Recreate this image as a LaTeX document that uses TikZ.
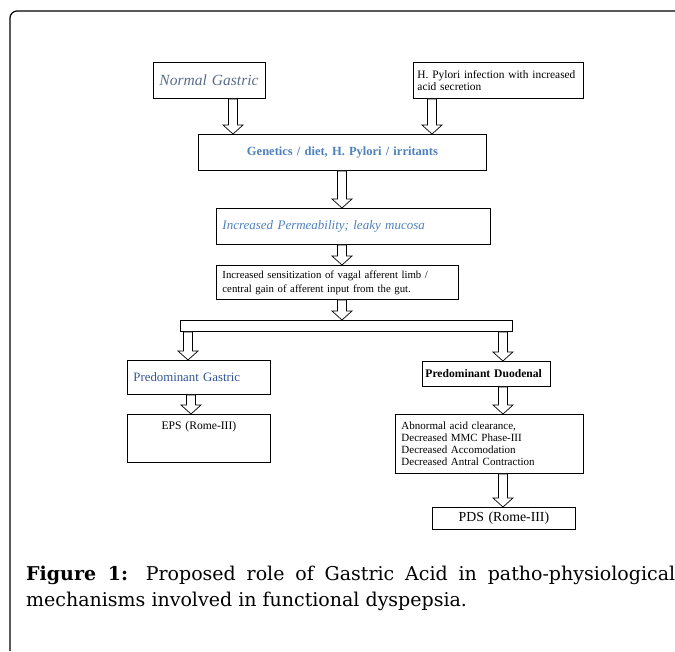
\documentclass[tikz,border=0pt]{standalone}
\usepackage{fontspec}
\setmainfont{Liberation Serif}
\newfontfamily\capfont{DejaVu Serif}
\usetikzlibrary{positioning,calc}
\definecolor{accent}{HTML}{4F81BD}
\definecolor{slate}{HTML}{5B6B8C}
\definecolor{deepblue}{HTML}{2F5597}
\tikzset{
  box/.style={draw,line width=0.9pt,anchor=north west,inner xsep=6pt,inner ysep=0pt,
    align=left,font=\fontsize{11}{12}\selectfont},
  hollowarrow/.style={draw,fill=white,line width=0.7pt},
}
% hollow block arrow: x taken from #1, runs from y of #1 down to y of #2
\newcommand{\hollow}[2]{%
  \draw[hollowarrow] let \p1=#1, \p2=#2 in
    (\x1-4.5pt,\y1) -- (\x1-4.5pt,\y2+9pt) -- (\x1-10pt,\y2+9pt) -- (\x1,\y2)
    -- (\x1+10pt,\y2+9pt) -- (\x1+4.5pt,\y2+9pt) -- (\x1+4.5pt,\y1) -- cycle;}

\begin{document}
\begin{tikzpicture}[x=1pt,y=-1pt]
\useasboundingbox (0,0) rectangle (675,651);
% outer frame
\draw[line width=1.2pt,rounded corners=7pt] (10,651) -- (10,11) -- (675,11);

% top row
\node[box,minimum height=36pt,text width=100pt,text=slate,font=\fontsize{15.5}{14}\selectfont\itshape]
  (normal) at (153,62) {Normal Gastric};
\node[box,minimum height=36pt,inner xsep=4pt,text width=162pt,font=\fontsize{11.4}{12}\selectfont]
  (pylori) at (413,62) {H. Pylori infection with increased\\acid secretion};

% middle chain
\node[box,minimum height=36pt,text width=276pt,align=center,text=accent,font=\fontsize{12.5}{14}\selectfont\bfseries]
  (genetics) at (198,134) {Genetics / diet, H. Pylori / irritants};
\node[box,minimum height=36pt,text width=262pt,text=accent,font=\fontsize{13}{14}\selectfont\itshape]
  (leaky) at (216,208) {Increased Permeability; leaky mucosa};
\node[box,minimum height=34pt,text width=230pt,font=\fontsize{10.8}{14}\selectfont]
  (vagal) at (216,265) {Increased sensitization of vagal afferent limb /\\central gain of afferent input from the gut.};
\node[box,minimum height=11pt,minimum width=332pt,inner sep=0pt] (split) at (180,320) {};

% gastric branch
\node[box,minimum height=34pt,text width=131pt,text=deepblue,font=\fontsize{12.8}{14}\selectfont]
  (gastric) at (127,360) {Predominant Gastric};
\node[box,inner ysep=6pt,text width=131pt,align=center,text height=9pt,text depth=27pt,font=\fontsize{11.6}{14}\selectfont]
  (eps) at (127,414) {EPS (Rome-III)};

% duodenal branch
\node[box,minimum height=25pt,inner xsep=3pt,text width=122pt,font=\fontsize{11.6}{14}\selectfont\bfseries]
  (duodenal) at (422,361) {Predominant Duodenal};
\node[box,minimum height=59pt,text width=176pt,font=\fontsize{11}{12}\selectfont]
  (motor) at (395,414) {Abnormal acid clearance,\\Decreased MMC Phase-III\\Decreased Accomodation\\Decreased Antral Contraction};
\node[box,minimum height=22pt,text width=131pt,align=center,font=\fontsize{13.8}{14}\selectfont]
  (pds) at (432,507) {PDS (Rome-III)};

% arrows
\hollow{([xshift=80pt]normal.south west)}{(genetics.north)}
\hollow{([xshift=19pt]pylori.south west)}{(genetics.north)}
\hollow{([xshift=144pt]genetics.south west)}{(leaky.north)}
\hollow{([xshift=126pt]leaky.south west)}{(vagal.north)}
\hollow{([xshift=126pt]vagal.south west)}{(split.north)}
\hollow{([xshift=8pt]split.south west)}{(gastric.north)}
\hollow{([xshift=-10pt]split.south east)}{(duodenal.north)}
\hollow{([xshift=64pt]gastric.south west)}{(eps.north)}
\hollow{([xshift=81pt]duodenal.south west)}{(motor.north)}
\hollow{([xshift=108pt]motor.south west)}{(pds.north)}

% caption
\node[anchor=north west,text width=649pt,align=justify,inner sep=0pt,font=\capfont\fontsize{19}{26}\selectfont]
  (caption) at (26,566) {\textbf{Figure 1:} Proposed role of Gastric Acid in patho-physiological\linebreak
  mechanisms involved in functional dyspepsia.};
\end{tikzpicture}
\end{document}
